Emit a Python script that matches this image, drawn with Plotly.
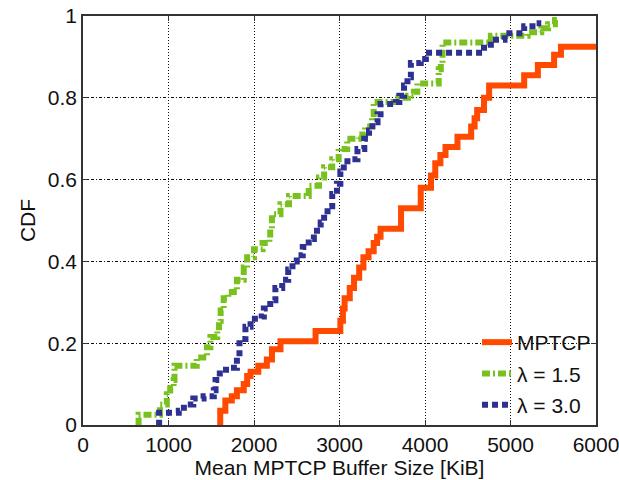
import plotly.graph_objects as go

# Empirical CDFs of the mean MPTCP buffer size (KiB), as step points:
# each x is where the CDF jumps, each y the CDF level right after the jump.
mptcp_kib = [1600, 1605, 1665, 1740, 1800, 1880, 1920, 1960, 2050, 2150, 2210, 2310,
             2720, 3010, 3040, 3060, 3120, 3170, 3230, 3280, 3340, 3400, 3440, 3480,
             3720, 3950, 4070, 4120, 4180, 4240, 4380, 4540, 4580, 4610, 4690, 4750,
             5160, 5320, 5510, 5590, 6500]
mptcp_cdf = [0.0, 0.035, 0.06, 0.07, 0.085, 0.10, 0.12, 0.13, 0.145, 0.16, 0.185, 0.205,
             0.23, 0.255, 0.285, 0.31, 0.335, 0.36, 0.385, 0.41, 0.425, 0.445, 0.46, 0.48,
             0.53, 0.58, 0.61, 0.64, 0.66, 0.68, 0.705, 0.73, 0.75, 0.77, 0.80, 0.83,
             0.855, 0.88, 0.905, 0.925, 0.925]

lam15_kib = [640, 650, 900, 980, 1020, 1060, 1070, 1330, 1450, 1490, 1570, 1590, 1610,
             1645, 1700, 1800, 1880, 1920, 2000, 2100, 2180, 2190, 2210, 2310, 2410,
             2640, 2760, 2820, 2915, 2990, 3090, 3230, 3300, 3380, 3400, 3690, 3800,
             3870, 3910, 4160, 4185, 4205, 4770, 5200, 5360, 5440, 5520, 5560]
lam15_cdf = [0.0, 0.025, 0.05, 0.075, 0.09, 0.11, 0.145, 0.165, 0.19, 0.215, 0.23, 0.255, 0.28,
             0.31, 0.325, 0.355, 0.385, 0.41, 0.43, 0.445, 0.455, 0.48, 0.515, 0.54, 0.56,
             0.585, 0.605, 0.63, 0.65, 0.675, 0.70, 0.71, 0.73, 0.75, 0.79, 0.80, 0.805,
             0.815, 0.835, 0.87, 0.885, 0.935, 0.952, 0.96, 0.97, 0.98, 0.99, 0.99]

lam30_kib = [880, 890, 1120, 1180, 1290, 1410, 1530, 1550, 1600, 1720, 1800, 1830, 1900,
             1960, 2090, 2115, 2190, 2250, 2330, 2400, 2450, 2500, 2570, 2640, 2700, 2780,
             2820, 2860, 2915, 2970, 3010, 3050, 3150, 3210, 3290, 3345, 3385, 3445, 3480,
             3660, 3700, 3755, 3795, 3835, 3950, 4010, 4690, 4830, 4930, 5160, 5300, 5360]
lam30_cdf = [0.0, 0.03, 0.035, 0.05, 0.065, 0.07, 0.085, 0.11, 0.135, 0.14, 0.165, 0.21, 0.24,
             0.26, 0.265, 0.285, 0.305, 0.335, 0.355, 0.38, 0.40, 0.415, 0.435, 0.455, 0.475, 0.495,
             0.515, 0.535, 0.565, 0.59, 0.62, 0.645, 0.65, 0.675, 0.70, 0.72, 0.74, 0.76, 0.785,
             0.79, 0.805, 0.83, 0.85, 0.885, 0.895, 0.91, 0.93, 0.942, 0.958, 0.975, 0.982, 0.982]

x_ticks = [0, 1000, 2000, 3000, 4000, 5000, 6000]
y_ticks = [0, 0.2, 0.4, 0.6, 0.8, 1]
y_tick_text = ["0", "0.2", "0.4", "0.6", "0.8", "1"]

series = [
    ("MPTCP", mptcp_kib, mptcp_cdf, "#FF4A00", "solid"),
    ("λ = 1.5", lam15_kib, lam15_cdf, "#79C11F", "8px,3px,2px,3px"),
    ("λ = 3.0", lam30_kib, lam30_cdf, "#2E3192", "6px,4px"),
]

fig = go.Figure()
for name, xs, ys, color, dash in series:
    fig.add_trace(go.Scatter(
        x=xs, y=ys, mode="lines", name=name, legendgroup=name,
        line=dict(color=color, width=6, dash=dash, shape="hv"),
    ))

font_family = "Liberation Sans, Arial, Helvetica, sans-serif"
axis_common = dict(
    showline=True, linecolor="#333333", linewidth=1.5, mirror="ticks",
    ticks="inside", ticklen=5, tickcolor="#333333", tickwidth=1,
    showgrid=True, gridcolor="#111111", gridwidth=1,
    zeroline=False, tickfont=dict(size=21, color="#111111"),
    ticklabeloverflow="allow", automargin=False,
)

fig.update_xaxes(
    range=[0, 6000], tickvals=x_ticks, ticktext=[str(v) for v in x_ticks],
    griddash="1px,2px",
    title=dict(text="Mean MPTCP Buffer Size [KiB]", font=dict(size=21, color="#111111"),
               standoff=2),
    **axis_common,
)
fig.update_yaxes(
    range=[0, 1], tickvals=y_ticks, ticktext=y_tick_text,
    griddash="3px,2px,1px,2px",
    title=dict(text="CDF", font=dict(size=21, color="#111111"), standoff=6),
    **axis_common,
)

fig.update_layout(
    width=619, height=480,
    margin=dict(l=83, r=23, t=16, b=55),
    paper_bgcolor="white", plot_bgcolor="white",
    font=dict(family=font_family, color="#111111"),
    showlegend=True,
    legend=dict(
        x=1.0, y=0.0, xanchor="right", yanchor="bottom",
        bgcolor="rgba(0,0,0,0)", borderwidth=0,
        font=dict(size=21, color="#111111"),
        tracegroupgap=1, itemwidth=30,
    ),
)

fig.write_html("out.html")
